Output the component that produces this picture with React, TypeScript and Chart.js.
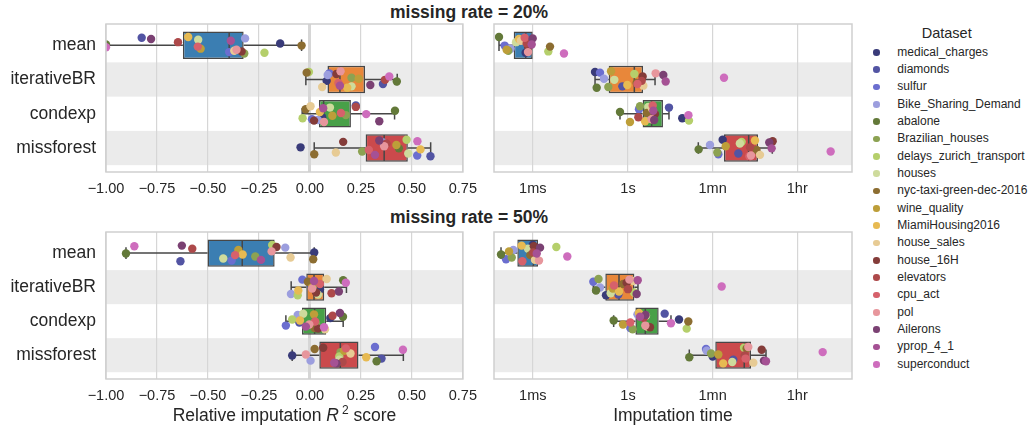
import { useEffect, useRef } from 'react';
import { Chart, registerables } from 'chart.js';

Chart.register(...registerables);

const FONT = "'Liberation Sans', Arial, Helvetica, sans-serif";
const TEXT = '#262626';
const LINE = '#474747';
const GRID = '#d6d6d6';
const BAND = '#ebebeb';
const FRAME = '#cfcfcf';

const METHODS = ['mean', 'iterativeBR', 'condexp', 'missforest'];

const DATASETS = [
  'medical_charges', 'diamonds', 'sulfur', 'Bike_Sharing_Demand', 'abalone',
  'Brazilian_houses', 'delays_zurich_transport', 'houses', 'nyc-taxi-green-dec-2016',
  'wine_quality', 'MiamiHousing2016', 'house_sales', 'house_16H', 'elevators',
  'cpu_act', 'pol', 'Ailerons', 'yprop_4_1', 'superconduct',
];

const DATASET_COLORS = [
  '#393b79', '#5254a3', '#6b6ecf', '#9c9ede', '#637939', '#8ca252', '#b5cf6b',
  '#cedb9c', '#8c6d31', '#bd9e39', '#e7ba52', '#e7cb94', '#843c39', '#ad494a',
  '#d6616b', '#e7969c', '#7b4173', '#a55194', '#ce6dbd',
];

const BOX_COLORS = ['#3b7eb2', '#e8873a', '#48a048', '#cb4a4c'];

const TIME_TICKS = [0.01, 1, 60, 3600];
const TIME_TICK_LABELS = ['1ms', '1s', '1mn', '1hr'];

// Relative imputation R2 score, missing rate 20% (rows: methods, columns: datasets)
const score20 = [
  [-0.146, -0.825, -0.396, -0.318, -1.0, -0.322, -0.223, -0.548, -0.041, -0.536, -0.597, -0.371, -0.335, -0.647, -0.55, -0.36, -0.779, -0.388, -1.0],
  [0.082, 0.358, 0.095, 0.087, 0.426, 0.204, -0.005, 0.204, -0.016, 0.239, 0.183, 0.06, 0.13, 0.368, 0.14, 0.15, 0.296, 0.147, 0.389],
  [0.06, 0.225, 0.01, 0.039, 0.417, 0.176, -0.036, 0.098, -0.021, 0.11, 0.049, 0.003, 0.02, 0.225, 0.152, 0.069, 0.34, 0.065, 0.276],
  [-0.046, 0.591, 0.526, 0.359, 0.436, 0.256, 0.474, 0.482, 0.021, 0.424, 0.542, 0.127, 0.163, 0.375, 0.289, 0.364, 0.34, 0.319, 0.527],
];
// box statistics: [lower whisker, q1, median, q3, upper whisker]
const score20Box = [
  [-1.05, -0.623, -0.396, -0.325, -0.041],
  [-0.02, 0.086, 0.147, 0.27, 0.428],
  [-0.038, 0.044, 0.067, 0.201, 0.415],
  [0.021, 0.273, 0.364, 0.48, 0.592],
];

// Relative imputation R2 score, missing rate 50%
const score50 = [
  [0.021, -0.635, -0.384, -0.121, -0.902, -0.268, -0.185, -0.425, 0.016, -0.351, -0.33, -0.095, -0.164, -0.577, -0.367, -0.188, -0.628, -0.24, -0.861],
  [0.049, 0.005, -0.037, -0.093, 0.163, 0.015, -0.06, 0.04, -0.01, 0.01, -0.057, 0.082, 0.03, 0.106, 0.049, 0.011, 0.142, 0.02, 0.176],
  [0.1, -0.052, -0.118, -0.06, 0.162, 0.029, -0.087, -0.033, 0.023, 0.02, -0.049, 0.074, 0.04, 0.111, 0.025, -0.003, 0.147, -0.02, 0.069],
  [-0.087, 0.351, 0.319, 0.003, 0.327, 0.15, 0.144, 0.144, 0.023, 0.168, 0.276, 0.199, 0.065, 0.16, 0.176, -0.02, 0.13, 0.119, 0.456],
];
const score50Box = [
  [-0.902, -0.502, -0.332, -0.173, 0.021],
  [-0.092, -0.018, 0.02, 0.07, 0.179],
  [-0.118, -0.039, 0.023, 0.08, 0.163],
  [-0.087, 0.046, 0.149, 0.238, 0.458],
];

// Imputation time in seconds, missing rate 20%
const time20 = [
  [0.00708, 0.00724, 0.00256, 0.00343, 0.00195, 0.00306, 0.0212, 0.00444, 0.023, 0.00282, 0.00513, 0.00562, 0.00805, 0.00745, 0.00676, 0.00794, 0.00995, 0.00948, 0.0452],
  [0.203, 0.76, 0.258, 0.313, 0.22, 0.386, 1.36, 0.516, 1.52, 0.44, 0.968, 2.1, 2.03, 1.94, 1.58, 3.81, 5.52, 6.19, 104],
  [13.8, 7.26, 1.7, 2.81, 0.679, 1.79, 19.1, 2.67, 2.51, 1.1, 2.28, 3.16, 3.69, 1.65, 3.31, 3.14, 3.55, 3.4, 18.6],
  [97.5, 208, 79.1, 52.8, 30.5, 75.3, 244, 224, 501, 113, 466, 593, 1094, 366, 355, 384, 929, 1042, 18100],
];
const time20Box = [
  [0.00195, 0.00397, 0.0071, 0.00995, 0.00995],
  [0.203, 0.393, 1.36, 2.07, 3.7],
  [0.679, 2.03, 3.14, 5.43, 7.26],
  [30, 104, 343, 538, 1076],
];

// Imputation time in seconds, missing rate 50%
const time50 = [
  [0.00995, 0.0107, 0.00274, 0.0039, 0.00215, 0.00361, 0.0312, 0.00794, 0.00891, 0.00316, 0.00583, 0.0111, 0.0105, 0.0102, 0.00603, 0.0135, 0.0142, 0.0121, 0.0531],
  [0.345, 0.627, 0.187, 0.258, 0.213, 0.24, 1.34, 0.433, 0.794, 0.479, 0.647, 1.29, 0.938, 1.0, 0.508, 1.07, 1.52, 1.6, 92.9],
  [11.8, 5.9, 1.12, 1.58, 0.5, 1.25, 17.1, 2.39, 18.5, 0.785, 1.7, 2.51, 2.9, 2.14, 1.12, 2.31, 2.34, 1.79, 8.0],
  [60.1, 163, 43.6, 45, 19.4, 55.5, 274, 155, 311, 79.1, 100, 430, 644, 282, 295, 337, 719, 793, 12300],
];
const time50Box = [
  [0.00215, 0.00473, 0.0103, 0.0129, 0.0129],
  [0.187, 0.334, 0.647, 1.36, 1.62],
  [0.5, 1.43, 2.31, 4.41, 8.0],
  [19.4, 68.2, 277, 384, 793],
];

// vertical strip offsets (in row units) used to spread the points of a row
const JITTER = [-0.05, 0.16, -0.2, 0.04, 0.22, -0.13, 0.1, -0.22, 0.18, -0.02, 0.13, -0.16, 0.06, -0.24, 0.2, -0.09, 0.24, -0.18, 0.01];

const formatScore = (v: number) => {
  const s = Math.abs(v).toFixed(2);
  return v < -1e-9 ? '\u2212' + s : s;
};

type PanelProps = {
  values: number[][];
  boxes: number[][];
  kind: 'score' | 'time';
  left: number;
  top: number;
  width: number;
  height: number;
  padLeft: number;
  padRight: number;
  padTop: number;
  axisHeight: number;
  jitterShift: number;
};

function Panel(p: PanelProps) {
  const ref = useRef<HTMLCanvasElement>(null);

  useEffect(() => {
    const canvas = ref.current;
    if (!canvas) return;
    const isScore = p.kind === 'score';

    const datasets: any[] = DATASETS.map((name, d) => ({
      type: 'scatter',
      label: name,
      order: DATASETS.length - d,
      data: METHODS.map((_, m) => ({
        x: p.values[m][d],
        y: m + JITTER[(d * 7 + m * 3 + p.jitterShift) % JITTER.length],
      })),
      backgroundColor: DATASET_COLORS[d],
      borderWidth: 0,
      pointRadius: 4.2,
      pointHoverRadius: 4.2,
      clip: 0,
    }));
    datasets.push({
      type: 'bar',
      label: 'box',
      order: 100,
      data: p.boxes.map((b, m) => ({ x: [b[1], b[3]], y: m })),
      backgroundColor: BOX_COLORS,
      borderColor: LINE,
      borderWidth: 1.5,
      borderSkipped: false,
      barPercentage: 1,
      categoryPercentage: 0.8,
    });

    const boxDecor = {
      id: 'boxDecor',
      beforeDraw(chart: any) {
        const { ctx, chartArea: a, scales } = chart;
        const y = scales.y;
        ctx.save();
        ctx.fillStyle = BAND;
        for (const m of [1, 3]) {
          const y0 = y.getPixelForValue(m - 0.5);
          const y1 = y.getPixelForValue(m + 0.5);
          ctx.fillRect(a.left, Math.min(y0, y1), a.right - a.left, Math.abs(y1 - y0));
        }
        ctx.restore();
      },
      afterDatasetDraw(chart: any, args: any) {
        if (args.meta.type !== 'bar') return;
        const { ctx, chartArea: a, scales } = chart;
        const x = scales.x;
        const y = scales.y;
        ctx.save();
        ctx.beginPath();
        ctx.rect(a.left, a.top, a.right - a.left, a.bottom - a.top);
        ctx.clip();
        ctx.strokeStyle = LINE;
        ctx.lineWidth = 1.5;
        p.boxes.forEach((b, m) => {
          const yc = y.getPixelForValue(m);
          const half = Math.abs(y.getPixelForValue(m + 0.4) - yc);
          const cap = Math.abs(y.getPixelForValue(m + 0.17) - yc);
          const [wl, q1, med, q3, wh] = b.map((v) => x.getPixelForValue(v));
          ctx.beginPath();
          if (b[0] < b[1]) {
            ctx.moveTo(wl, yc); ctx.lineTo(q1, yc);
            ctx.moveTo(wl, yc - cap); ctx.lineTo(wl, yc + cap);
          }
          if (b[4] > b[3]) {
            ctx.moveTo(q3, yc); ctx.lineTo(wh, yc);
            ctx.moveTo(wh, yc - cap); ctx.lineTo(wh, yc + cap);
          }
          ctx.moveTo(med, yc - half + 0.75); ctx.lineTo(med, yc + half - 0.75);
          ctx.stroke();
        });
        ctx.restore();
      },
      afterDatasetsDraw(chart: any) {
        const { ctx, chartArea: a } = chart;
        ctx.save();
        ctx.strokeStyle = FRAME;
        ctx.lineWidth = 1.5;
        ctx.strokeRect(a.left, a.top, a.right - a.left, a.bottom - a.top);
        ctx.restore();
      },
    };

    const xScale: any = isScore
      ? {
          type: 'linear',
          min: -1,
          max: 0.75,
          bounds: 'data',
          beginAtZero: false,
          offset: false,
          ticks: {
            stepSize: 0.25,
            callback: (v: any) => formatScore(Number(v)),
          },
        }
      : {
          type: 'logarithmic',
          min: 0.001531,
          max: 50820,
          bounds: 'data',
          offset: false,
          afterBuildTicks: (s: any) => {
            s.ticks = TIME_TICKS.map((value) => ({ value }));
          },
          ticks: {
            callback: (v: any) => TIME_TICK_LABELS[TIME_TICKS.indexOf(Number(v))] ?? '',
          },
        };
    xScale.grid = {
      offset: false,
      drawTicks: false,
      color: GRID,
      lineWidth: (c: any) => (c.tick && Math.abs(c.tick.value) < 1e-9 ? 3 : 1.2),
    };
    xScale.border = { display: false };
    xScale.ticks = {
      ...xScale.ticks,
      color: TEXT,
      font: { family: FONT, size: 14.5 },
      padding: 8,
      maxRotation: 0,
      autoSkip: false,
    };
    xScale.afterFit = (s: any) => {
      s.height = p.axisHeight;
    };

    const chart = new Chart(canvas, {
      type: 'bar',
      data: { datasets },
      options: {
        indexAxis: 'y',
        responsive: false,
        animation: false,
        devicePixelRatio: 1,
        events: [],
        layout: { padding: { left: p.padLeft, right: p.padRight, top: p.padTop, bottom: 0 } },
        plugins: { legend: { display: false }, tooltip: { enabled: false } },
        scales: {
          x: xScale,
          y: {
            type: 'linear',
            reverse: true,
            min: -0.62,
            max: 3.7,
            offset: false,
            display: isScore,
            afterBuildTicks: (s: any) => {
              s.ticks = METHODS.map((_, i) => ({ value: i }));
            },
            afterFit: (s: any) => {
              if (isScore) s.width = 106;
            },
            grid: { display: false, offset: false, drawTicks: false },
            border: { display: false },
            ticks: {
              color: TEXT,
              font: { family: FONT, size: 17.5 },
              padding: 10,
              autoSkip: false,
              callback: (v: any) => METHODS[Number(v)] ?? '',
            },
          },
        },
      } as any,
      plugins: [boxDecor],
    });

    return () => chart.destroy();
  }, []);

  return (
    <canvas
      ref={ref}
      width={p.width}
      height={p.height}
      style={{ position: 'absolute', left: p.left, top: p.top, width: p.width, height: p.height }}
    />
  );
}

const titleStyle = (top: number): any => ({
  position: 'absolute',
  left: 269,
  width: 400,
  top,
  textAlign: 'center',
  fontWeight: 'bold',
  fontSize: 17.5,
  lineHeight: '20px',
  whiteSpace: 'nowrap',
});

function Legend() {
  return (
    <>
      <div
        style={{
          position: 'absolute',
          left: 896.7,
          width: 100,
          top: 25,
          textAlign: 'center',
          fontSize: 14.5,
          lineHeight: '17px',
        }}
      >
        Dataset
      </div>
      {DATASETS.map((name, i) => {
        const cy = 52.3 + i * 17.33;
        return (
          <div key={name}>
            <div
              style={{
                position: 'absolute',
                left: 876.7 - 3.3,
                top: cy - 3.3,
                width: 6.6,
                height: 6.6,
                borderRadius: '50%',
                background: DATASET_COLORS[i],
              }}
            />
            <div
              style={{
                position: 'absolute',
                left: 897.3,
                top: cy - 7.5,
                fontSize: 12,
                lineHeight: '14px',
                whiteSpace: 'nowrap',
              }}
            >
              {name}
            </div>
          </div>
        );
      })}
    </>
  );
}

export default function App() {
  return (
    <div
      style={{
        position: 'absolute',
        left: 0,
        top: 0,
        width: 1031,
        height: 431,
        overflow: 'hidden',
        background: '#ffffff',
        fontFamily: FONT,
        color: TEXT,
      }}
    >
      <div style={titleStyle(2)}>missing rate = 20%</div>
      <Panel values={score20} boxes={score20Box} kind="score" left={0} top={2} width={485} height={204}
        padLeft={0} padRight={22} padTop={22} axisHeight={34} jitterShift={0} />
      <Panel values={time20} boxes={time20Box} kind="time" left={480} top={2} width={380} height={204}
        padLeft={14} padRight={8} padTop={22} axisHeight={34} jitterShift={4} />
      <div style={titleStyle(207)}>missing rate = 50%</div>
      <Panel values={score50} boxes={score50Box} kind="score" left={0} top={210} width={485} height={204}
        padLeft={0} padRight={22} padTop={22} axisHeight={35} jitterShift={9} />
      <Panel values={time50} boxes={time50Box} kind="time" left={480} top={210} width={380} height={204}
        padLeft={14} padRight={8} padTop={22} axisHeight={35} jitterShift={13} />
      <div
        style={{
          position: 'absolute',
          left: 84.5,
          width: 400,
          top: 405,
          textAlign: 'center',
          fontSize: 17.5,
          lineHeight: '20px',
          whiteSpace: 'nowrap',
        }}
      >
        Relative imputation <i>R</i>
        <span style={{ position: 'relative', top: -7, fontSize: 12, marginLeft: 3 }}>2</span> score
      </div>
      <div
        style={{
          position: 'absolute',
          left: 473,
          width: 400,
          top: 405,
          textAlign: 'center',
          fontSize: 17.5,
          lineHeight: '20px',
          whiteSpace: 'nowrap',
        }}
      >
        Imputation time
      </div>
      <Legend />
    </div>
  );
}
